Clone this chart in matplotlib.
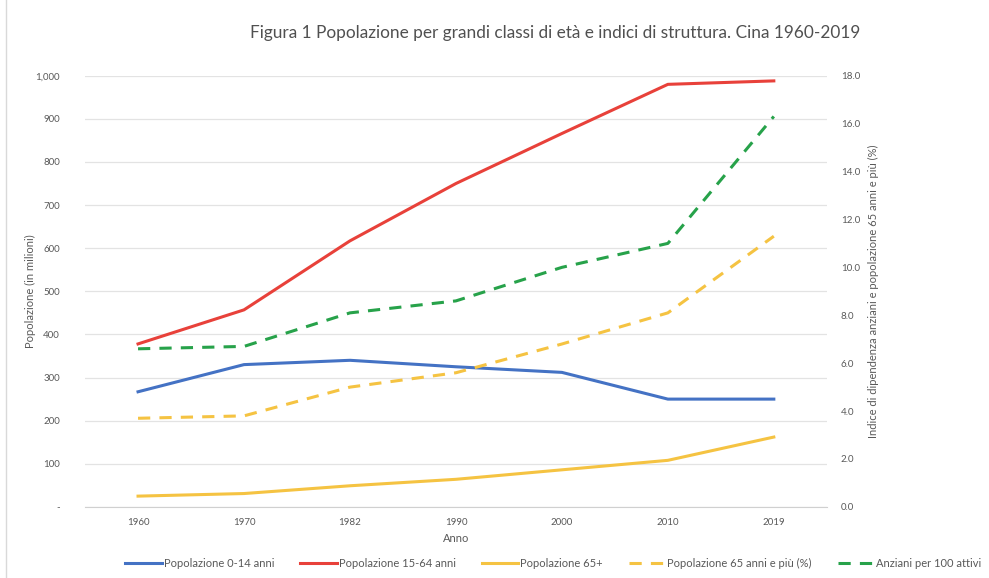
import matplotlib
matplotlib.use("Agg")
import matplotlib.pyplot as plt
from matplotlib.ticker import FuncFormatter

plt.rcParams['font.family'] = ['Lato', 'DejaVu Sans']

years = ['1960', '1970', '1982', '1990', '2000', '2010', '2019']
pop_0_14 = [267, 330, 340, 325, 312, 250, 250]
pop_15_64 = [378, 457, 617, 750, 866, 980, 988]
pop_65 = [25, 31, 49, 64, 86, 108, 162]
pct_65 = [3.7, 3.8, 5.0, 5.6, 6.8, 8.1, 11.3]
old_dep = [6.6, 6.7, 8.1, 8.6, 10.0, 11.0, 16.3]

labels = ['Popolazione 0-14 anni', 'Popolazione 15-64 anni', 'Popolazione 65+',
          'Popolazione 65 anni e più (%)', 'Anziani per 100 attivi']

fig = plt.figure(figsize=(9.89, 5.78), dpi=100)
ax = fig.add_axes([0.086, 0.123, 0.75, 0.746])
ax2 = ax.twinx()

x = list(range(len(years)))
tc = '#595959'
l1, = ax.plot(x, pop_0_14, color='#4472C4', lw=2.2)
l2, = ax.plot(x, pop_15_64, color='#E8413A', lw=2.2)
l3, = ax.plot(x, pop_65, color='#F5C342', lw=2.2)
l4, = ax2.plot(x, pct_65, color='#F5C342', lw=2.2, ls=(0, (4, 3)))
l5, = ax2.plot(x, old_dep, color='#27A24A', lw=2.2, ls=(0, (4, 3)))

ax.set_xlim(-0.5, len(years) - 0.5)
ax.set_ylim(0, 1000)
ax2.set_ylim(0, 18)
ax.set_yticks(range(0, 1001, 100))
ax2.set_yticks([i * 2 for i in range(10)])
ax.yaxis.set_major_formatter(FuncFormatter(lambda v, p: '-' if v == 0 else f'{int(v):,}'))
ax2.yaxis.set_major_formatter(FuncFormatter(lambda v, p: f'{v:.1f}'))
ax.set_xticks(x)
ax.set_xticklabels(years)

ax.grid(axis='y', color='#E3E3E3', lw=0.9)
ax.set_axisbelow(True)
for a in (ax, ax2):
    for s in a.spines.values():
        s.set_visible(False)
    a.tick_params(length=0, labelsize=7, colors=tc)
ax.spines['bottom'].set_visible(True)
ax.spines['bottom'].set_color('#D0D0D0')
ax.tick_params(axis='y', pad=18)
ax2.tick_params(axis='y', pad=10)
ax.tick_params(axis='x', pad=8)

ax.set_ylabel('Popolazione (in milioni)', fontsize=8, color=tc, labelpad=0)
ax2.set_ylabel('Indice di dipendenza anziani e popolazione 65 anni e più (%)', fontsize=8, color=tc, labelpad=6)
ax.set_xlabel('Anno', fontsize=8, color=tc, labelpad=4)

fig.text(0.561, 0.943, 'Figura 1 Popolazione per grandi classi di età e indici di struttura. Cina 1960-2019',
         ha='center', va='center', fontsize=12.4, color='#505050')

fig.legend([l1, l2, l3, l4, l5], labels, loc='center left', bbox_to_anchor=(0.121, 0.025),
           ncol=5, frameon=False, fontsize=8, handlelength=3.3, handletextpad=0.15,
           columnspacing=2.35, labelcolor=tc, borderpad=0)

fig.add_artist(plt.Line2D([0.006, 0.006], [0.0, 1.0], color='#D9D9D9', lw=1, transform=fig.transFigure))

fig.savefig('out.png', dpi=100)
